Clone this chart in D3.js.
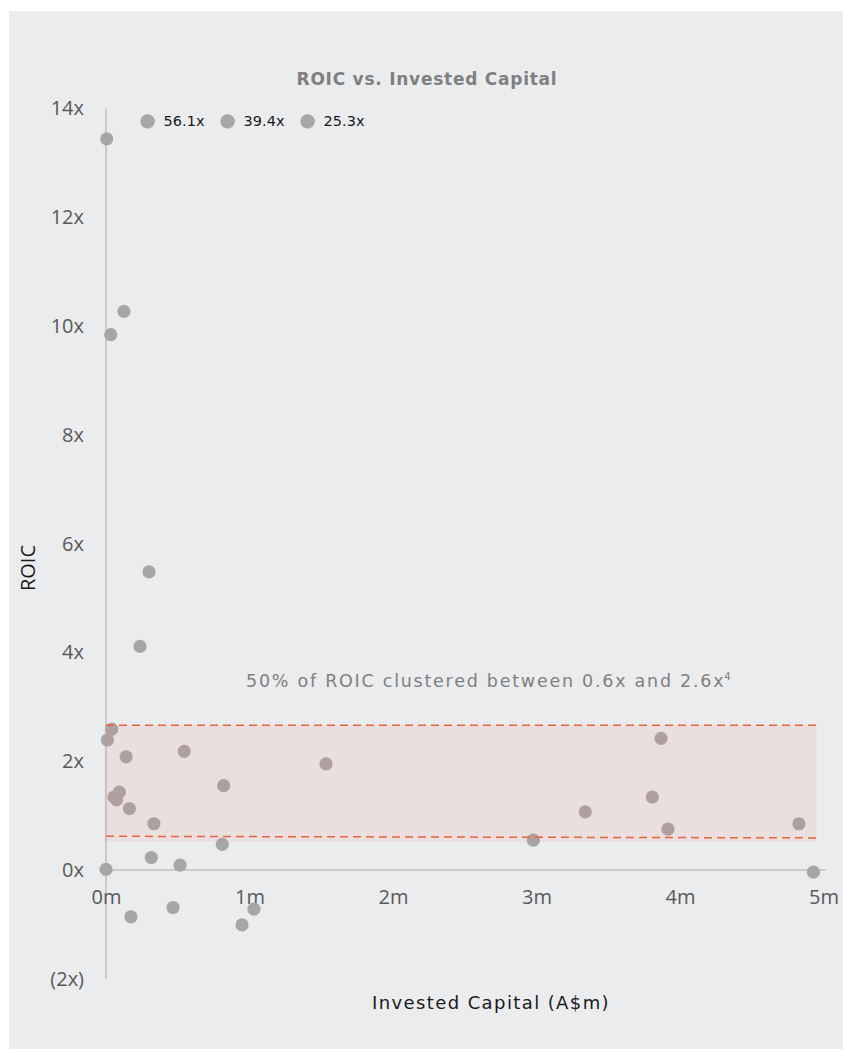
<!DOCTYPE html>
<html>
<head>
<meta charset="utf-8">
<script src="https://cdn.jsdelivr.net/npm/d3@7"></script>
<style>
  html, body { margin: 0; padding: 0; background: #ffffff; overflow: hidden; }
  svg { display: block; }
</style>
</head>
<body>
<svg id="chart" width="843" height="1049"></svg>
<script>
// ---- Data ----
const investedCapital = [0.005, 0.125, 0.033, 0.30, 0.237,
  0.04, 0.01, 0.14, 0.545, 0.82, 1.533, 0.093, 0.056, 0.074, 0.163, 0.334, 0.81,
  0.316, 0.516, 0.0,
  0.174, 0.467, 0.948, 1.031,
  3.868, 3.807, 3.34, 3.916, 2.978, 4.829, 4.93];
const roic = [13.44, 10.27, 9.84, 5.48, 4.11,
  2.59, 2.39, 2.08, 2.18, 1.55, 1.95, 1.43, 1.34, 1.29, 1.13, 0.85, 0.47,
  0.23, 0.09, 0.01,
  -0.86, -0.69, -1.01, -0.72,
  2.42, 1.34, 1.07, 0.75, 0.55, 0.85, -0.04];
const outlierLabels = ["56.1x", "39.4x", "25.3x"];
const yTicks = [-2, 0, 2, 4, 6, 8, 10, 12, 14];
const xTicks = [0, 1, 2, 3, 4, 5];
const bandLowerLine = [[0, 0.62], [4.95, 0.59]];
const bandUpperLine = [[0, 2.66], [4.95, 2.66]];
const bandRange = [0.52, 2.66];
const titleText = "ROIC vs. Invested Capital";
const annotationText = "50% of ROIC clustered between 0.6x and 2.6x";

// ---- Layout ----
const svg = d3.select("#chart");
const W = 843, H = 1049;
svg.append("rect").attr("x", 9).attr("y", 11).attr("width", W - 9).attr("height", H - 11)
  .attr("fill", "#EBECEE");

const x = d3.scaleLinear().domain([0, 5]).range([106, 823.5]);
const y = d3.scaleLinear().domain([-2, 14]).range([978.8, 108.4]);

const tickFont = "'Open Sans', sans-serif";
const gothic = "'DejaVu Sans', sans-serif";

// axes lines
svg.append("line").attr("x1", x(0)).attr("x2", x(0)).attr("y1", y(14)).attr("y2", y(-2))
  .attr("stroke", "#BFBFBF").attr("stroke-width", 1.5);
svg.append("line").attr("x1", x(0)).attr("x2", x(5) + 2).attr("y1", y(0)).attr("y2", y(0))
  .attr("stroke", "#BFBFBF").attr("stroke-width", 1.5);

// y axis ticks
const yAxis = d3.axisLeft(y).tickValues(yTicks).tickSize(0).tickPadding(22)
  .tickFormat(v => v < 0 ? `(${-v}x)` : `${v}x`);
const gy = svg.append("g").attr("transform", `translate(${x(0)},0)`).call(yAxis);
gy.select(".domain").remove();
gy.selectAll("text").attr("font-family", tickFont).attr("font-size", 20).attr("fill", "#595959");

// x axis ticks (labels at zero line)
const xAxis = d3.axisBottom(x).tickValues(xTicks).tickSize(0).tickPadding(20)
  .tickFormat(v => `${v}m`);
const gx = svg.append("g").attr("transform", `translate(0,${y(0)})`).call(xAxis);
gx.select(".domain").remove();
gx.selectAll("text").attr("font-family", tickFont).attr("font-size", 20).attr("fill", "#595959");

// points
const pts = investedCapital.map((c, i) => ({ c, r: roic[i] }));
svg.append("g").selectAll("circle").data(pts).join("circle")
  .attr("cx", d => x(d.c)).attr("cy", d => y(d.r)).attr("r", 6.6)
  .attr("fill", "#A6A6A6");

// band overlay
svg.append("rect")
  .attr("x", x(0) - 1.5).attr("width", x(4.95) - x(0) + 1.5)
  .attr("y", y(bandRange[1])).attr("height", y(bandRange[0]) - y(bandRange[1]))
  .attr("fill", "rgb(228,125,105)").attr("fill-opacity", 0.12);

const line = d3.line().x(d => x(d[0])).y(d => y(d[1]));
[bandUpperLine, bandLowerLine].forEach(l => {
  svg.append("path").attr("d", line(l)).attr("fill", "none")
    .attr("stroke", "#E8643C").attr("stroke-width", 1.5).attr("stroke-dasharray", "8,5");
});

// annotation
const ann = svg.append("text").attr("x", 246).attr("y", y(3.36))
  .attr("font-family", gothic).attr("font-size", 17.5).attr("letter-spacing", 1.75)
  .attr("fill", "#808080");
ann.append("tspan").text(annotationText);
ann.append("tspan").attr("font-size", 10).attr("dy", -7).attr("dx", -1).text("4");

// outlier markers
const og = svg.append("g");
outlierLabels.forEach((lab, i) => {
  const cx = x(0.29) + i * 80;
  og.append("circle").attr("cx", cx).attr("cy", y(13.76)).attr("r", 7.2).attr("fill", "#A6A6A6");
  og.append("text").attr("x", cx + 16).attr("y", y(13.76) + 5)
    .attr("font-family", gothic).attr("font-size", 14.5).attr("fill", "#1a1a1a").text(lab);
});

// title
svg.append("text").attr("x", 427).attr("y", 85).attr("text-anchor", "middle")
  .attr("font-family", gothic).attr("font-weight", "bold").attr("font-size", 17)
  .attr("letter-spacing", 0.75).attr("fill", "#7F7F7F").text(titleText);

// axis titles
svg.append("text").attr("x", 491).attr("y", 1009).attr("text-anchor", "middle")
  .attr("font-family", gothic).attr("font-size", 18).attr("letter-spacing", 1.4)
  .attr("fill", "#1a1a1a").text("Invested Capital (A$m)");
svg.append("text").attr("transform", `translate(35,568) rotate(-90)`).attr("text-anchor", "middle")
  .attr("font-family", tickFont).attr("font-size", 20).attr("fill", "#1a1a1a").text("ROIC");
</script>
</body>
</html>
